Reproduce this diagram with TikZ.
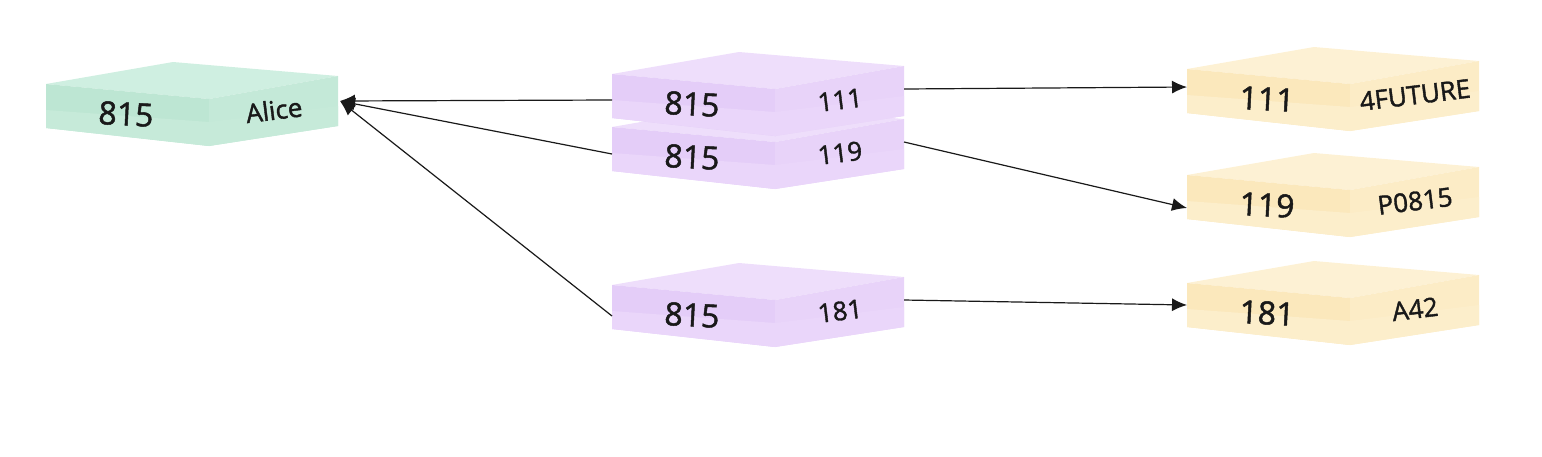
\documentclass[tikz,border=0pt]{standalone}
\usepackage{fontspec}
\setmainfont{Open Sans}
\newfontfamily\labelfont{Open Sans}[FakeBold=1.5]
\usetikzlibrary{arrows.meta}
\definecolor{gtop}{HTML}{CFEFE1}
\definecolor{gfront}{HTML}{BDE6D3}
\definecolor{gright}{HTML}{C4E9D8}
\definecolor{glow}{HTML}{C6EAD9}
\definecolor{ptop}{HTML}{EEDEFB}
\definecolor{pfront}{HTML}{E4CDF8}
\definecolor{pright}{HTML}{E8D3F9}
\definecolor{plow}{HTML}{EAD6FA}
\definecolor{ytop}{HTML}{FDF1D4}
\definecolor{yfront}{HTML}{FBE8BC}
\definecolor{yright}{HTML}{FCECC6}
\definecolor{ylow}{HTML}{FCEECB}
\tikzset{
  biglabel/.style={font=\labelfont\fontsize{16}{16}\selectfont, text=black!90, inner sep=0pt},
  smalllabel/.style={font=\labelfont\fontsize{13}{13}\selectfont, text=black!90, inner sep=0pt},
  link/.style={draw=black!90, line width=0.6pt, -{Latex[length=7.5pt,width=6.5pt]}}
}
% #1 name, #2 x0, #3 y0, #4 colour prefix, #5 left label, #6 right label
\newcommand\drawslab[6]{%
  \fill[#4top] (#2,#3) -- (#2+127,#3-22) -- (#2+292,#3-8) -- (#2+163,#3+15) -- cycle;
  \fill[#4front] (#2,#3) -- (#2+163,#3+15) -- (#2+163,#3+62) -- (#2,#3+44) -- cycle;
  \fill[#4right] (#2+163,#3+15) -- (#2+292,#3-8) -- (#2+292,#3+42) -- (#2+163,#3+62) -- cycle;
  \fill[#4low] (#2,#3+26) -- (#2+163,#3+38) -- (#2+163,#3+62) -- (#2,#3+44) -- cycle;
  \fill[#4low] (#2+163,#3+38) -- (#2+292,#3+22) -- (#2+292,#3+42) -- (#2+163,#3+62) -- cycle;
  \coordinate (#1w) at (#2,#3+26);
  \coordinate (#1e) at (#2+292,#3+15);
  \node[biglabel, rotate=-3] (#1l) at (#2+80,#3+30) {#5};
  \node[smalllabel, rotate=7] (#1r) at (#2+228,#3+26) {#6};
}
\begin{document}
\begin{tikzpicture}[x=0.5pt,y=-0.5pt]
\useasboundingbox (0,0) rectangle (1542,456);
% green
\drawslab{g}{46}{84}{g}{815}{Alice}
% purple
\drawslab{pb}{612}{127}{p}{815}{119}
\drawslab{pa}{612}{74}{p}{815}{111}
\drawslab{pc}{612}{285}{p}{815}{181}
% yellow
\drawslab{ya}{1187}{69}{y}{111}{4FUTURE}
\drawslab{yb}{1187}{175}{y}{119}{P0815}
\drawslab{yc}{1187}{283}{y}{181}{A42}
\coordinate (gt) at (340,101);
\draw[link] (paw) -- (gt);
\draw[link] ([yshift=-0.5pt]pbw) -- (gt);
\draw[link] ([yshift=-2.5pt]pcw) -- (gt);
\draw[link] (pae) -- ([yshift=4pt]yaw);
\draw[link] (pbe) -- ([yshift=-3.5pt]ybw);
\draw[link] (pce) -- ([yshift=2pt]ycw);
\end{tikzpicture}
\end{document}
